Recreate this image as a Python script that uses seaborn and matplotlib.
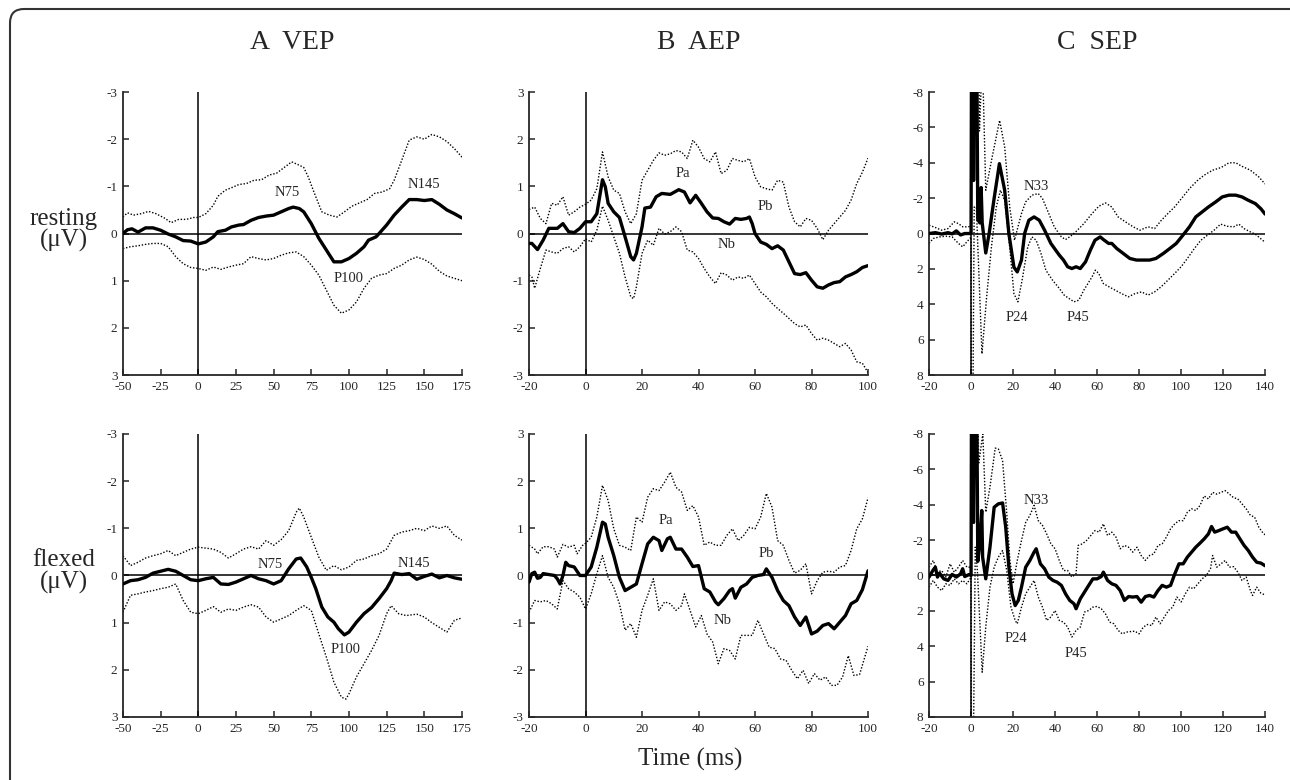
import matplotlib
matplotlib.use('Agg')
import matplotlib.pyplot as plt
from matplotlib.patches import FancyBboxPatch
from matplotlib.transforms import IdentityTransform
import seaborn as sns

# ---- VEP, resting (ms / uV) ----
vep_rest_mean_t = [-50, -47, -44, -40, -35, -30, -25, -20, -15, -10, -5, 0, 5, 10, 13, 18, 22, 27, 30, 35,
                   40, 45, 50, 55, 60, 63, 67, 70, 75, 80, 85, 90, 95, 100, 105, 110, 113, 118, 120, 125,
                   130, 135, 140, 145, 150, 155, 160, 165, 170, 175]
vep_rest_mean = [0, -0.08, -0.1, -0.03, -0.12, -0.12, -0.07, 0.01, 0.07, 0.15, 0.16, 0.22, 0.18, 0.07, -0.04, -0.07, -0.14, -0.18, -0.19, -0.28,
                 -0.34, -0.37, -0.39, -0.46, -0.53, -0.56, -0.53, -0.46, -0.21, 0.1, 0.35, 0.6, 0.6, 0.53, 0.42, 0.28, 0.14, 0.07, 0, -0.18,
                 -0.39, -0.56, -0.72, -0.72, -0.7, -0.72, -0.62, -0.5, -0.42, -0.33]
vep_rest_up_t = [-50, -47, -43, -38, -33, -28, -22, -18, -13, -8, -3, 0, 5, 10, 13, 18, 22, 27, 32, 37,
                 42, 47, 52, 57, 62, 67, 70, 73, 77, 82, 87, 92, 97, 102, 107, 112, 117, 122, 127, 130,
                 135, 140, 145, 150, 155, 160, 165, 170, 175]
vep_rest_up = [-0.35, -0.44, -0.39, -0.42, -0.47, -0.42, -0.32, -0.23, -0.3, -0.3, -0.34, -0.34, -0.42, -0.6, -0.79, -0.92, -0.97, -1.04, -1.06, -1.13,
               -1.14, -1.24, -1.28, -1.4, -1.52, -1.45, -1.4, -1.2, -0.86, -0.46, -0.39, -0.35, -0.46, -0.58, -0.65, -0.72, -0.85, -0.88, -0.95, -1.13,
               -1.55, -1.98, -2.05, -2.0, -2.1, -2.05, -1.95, -1.8, -1.62]
vep_rest_lo_t = list(range(-50, 176, 5))
vep_rest_lo = [0.32, 0.28, 0.26, 0.23, 0.21, 0.21, 0.28, 0.49, 0.64, 0.72, 0.74, 0.78, 0.71, 0.76, 0.71, 0.67, 0.64, 0.49, 0.53, 0.56,
               0.53, 0.46, 0.41, 0.39, 0.49, 0.67, 0.88, 1.2, 1.52, 1.69, 1.62, 1.45, 1.16, 0.95, 0.88, 0.85, 0.74, 0.67, 0.56, 0.5,
               0.55, 0.65, 0.8, 0.9, 0.95, 1.0]

# ---- VEP, flexed ----
vep_flex_mean_t = [-50, -45, -40, -35, -30, -25, -20, -15, -10, -5, 0, 5, 10, 15, 20, 25, 30, 35, 40, 45,
                   50, 55, 60, 65, 68, 72, 75, 78, 82, 86, 90, 93, 97, 100, 105, 110, 115, 120, 125, 128,
                   130, 135, 140, 145, 150, 155, 160, 165, 170, 175]
vep_flex_mean = [0.18, 0.11, 0.09, 0.04, -0.05, -0.09, -0.13, -0.09, 0, 0.09, 0.11, 0.07, 0.04, 0.18, 0.19, 0.14, 0.07, 0, 0.07, 0.11,
                 0.18, 0.11, -0.14, -0.35, -0.37, -0.18, 0.04, 0.28, 0.67, 0.88, 0.99, 1.13, 1.26, 1.2, 0.99, 0.81, 0.68, 0.49, 0.28, 0.11,
                 -0.05, -0.02, -0.04, 0.08, 0.02, -0.03, 0.05, 0.0, 0.05, 0.08]
vep_flex_up_t = [-50, -45, -40, -35, -30, -25, -20, -15, -10, -5, 0, 5, 10, 15, 20, 25, 30, 35, 40, 45,
                 50, 55, 60, 65, 67, 70, 75, 80, 85, 90, 95, 100, 105, 110, 115, 120, 125, 130, 135, 140,
                 145, 150, 155, 160, 165, 170, 175]
vep_flex_up = [-0.42, -0.21, -0.28, -0.37, -0.42, -0.46, -0.53, -0.42, -0.49, -0.56, -0.6, -0.58, -0.56, -0.49, -0.37, -0.46, -0.56, -0.61, -0.56, -0.74,
               -0.64, -0.76, -0.95, -1.34, -1.43, -1.24, -0.81, -0.39, -0.11, -0.21, -0.12, -0.18, -0.32, -0.35, -0.42, -0.46, -0.56, -0.85, -0.92, -0.95,
               -1.0, -0.95, -1.05, -1.0, -1.05, -0.85, -0.75]
vep_flex_lo_t = [-50, -45, -40, -35, -30, -25, -20, -15, -10, -5, 0, 5, 10, 15, 20, 25, 30, 35, 40, 45,
                 50, 55, 60, 65, 70, 75, 80, 85, 90, 95, 98, 100, 105, 110, 115, 120, 125, 128, 133, 138,
                 145, 150, 155, 160, 165, 170, 175]
vep_flex_lo = [0.78, 0.42, 0.39, 0.35, 0.32, 0.28, 0.25, 0.18, 0.53, 0.78, 0.81, 0.74, 0.66, 0.78, 0.71, 0.74, 0.67, 0.62, 0.67, 0.88,
               0.99, 0.92, 0.85, 0.74, 0.64, 0.74, 1.24, 1.73, 2.26, 2.58, 2.62, 2.51, 2.15, 1.87, 1.59, 1.27, 0.81, 0.64, 0.81, 0.85,
               0.82, 0.88, 1.0, 1.1, 1.2, 0.95, 0.9]

# ---- AEP, resting ----
aep_rest_mean_t = [-20, -19, -17, -15, -13, -11, -10, -8, -6, -4, -2, 0, 2, 4, 5, 6, 7, 8, 10, 12,
                   14, 16, 17, 18, 20, 21, 23, 25, 27, 30, 33, 35, 37, 39, 41, 43, 45, 47, 49, 51,
                   53, 55, 57, 58, 59, 60, 62, 64, 66, 68, 70, 72, 74, 76, 78, 80, 82, 84, 86, 88,
                   90, 92, 94, 96, 98, 100]
aep_rest_mean = [-0.21, -0.21, -0.34, -0.14, 0.11, 0.11, 0.11, 0.21, 0.04, 0.02, 0.11, 0.25, 0.25, 0.42, 0.78, 1.14, 0.99, 0.64, 0.46, 0.34,
                 -0.07, -0.49, -0.56, -0.42, 0.14, 0.54, 0.56, 0.78, 0.85, 0.83, 0.93, 0.88, 0.65, 0.81, 0.64, 0.46, 0.33, 0.32, 0.25, 0.2,
                 0.32, 0.3, 0.32, 0.35, 0.21, 0, -0.18, -0.23, -0.32, -0.26, -0.35, -0.6, -0.85, -0.87, -0.83, -0.99, -1.13, -1.16, -1.09, -1.04,
                 -1.02, -0.92, -0.87, -0.81, -0.72, -0.68]
aep_rest_up_t = list(range(-20, 101, 2))
aep_rest_up = [0.51, 0.56, 0.32, 0.21, 0.64, 0.6, 0.78, 0.39, 0.46, 0.56,
               0.62, 0.71, 0.95, 1.73, 1.2, 0.92, 0.85, 0.46, 0.21, 0.42,
               1.13, 1.34, 1.55, 1.71, 1.66, 1.69, 1.76, 1.73, 1.59, 1.98,
               1.83, 1.59, 1.52, 1.73, 1.27, 1.34, 1.59, 1.55, 1.52, 1.59,
               1.2, 0.99, 0.95, 0.92, 1.13, 1.09, 0.56, 0.25, 0.14, 0.32,
               0.28, 0.11, -0.13, 0.07, 0.21, 0.35, 0.49, 0.71, 1.06, 1.3, 1.6]
aep_rest_lo_t = [-20, -19, -18, -16, -14, -12, -10, -8, -6, -4, -2,
                 0, 2, 4, 6, 8, 10, 12, 14, 16, 17, 18] + list(range(20, 101, 2))
aep_rest_lo = [-0.88, -0.92, -1.16, -0.74, -0.35, -0.39, -0.42, -0.32, -0.28, -0.39, -0.28,
               -0.11, -0.18, 0.07, 0.58, 0.28, -0.07, -0.42, -0.92, -1.34, -1.38, -1.13,
               -0.42, -0.14, -0.25, 0.11, -0.01, 0.04, 0.14, 0.04, -0.35, -0.39,
               -0.53, -0.74, -0.92, -1.06, -0.83, -0.88, -0.99, -0.92, -0.95, -0.88,
               -1.06, -1.24, -1.34, -1.48, -1.59, -1.69, -1.8, -1.91, -1.98, -1.94,
               -2.12, -2.26, -2.22, -2.26, -2.33, -2.4, -2.33, -2.47, -2.72, -2.75, -2.95]

# ---- AEP, flexed ----
aep_flex_mean_t = [-20, -19, -18, -17, -16, -15, -13, -11, -10, -9, -8, -7, -6, -4, -2, 0, 2, 4, 6, 7,
                   8, 10, 12, 14, 16, 18, 20, 22, 24, 26, 27, 29, 30, 32, 34, 36, 38, 40, 42, 44,
                   46, 47, 49, 51, 52, 53, 55, 57, 59, 61, 63, 64, 66, 68, 70, 72, 74, 76, 78, 80,
                   82, 84, 86, 88, 90, 92, 94, 96, 98, 100]
aep_flex_mean = [-0.14, 0.04, 0.07, -0.06, -0.04, 0.04, 0.02, 0, -0.07, -0.18, 0, 0.28, 0.21, 0.18, 0, 0, 0.18, 0.6, 1.13, 1.09,
                 0.81, 0.42, -0.04, -0.32, -0.25, -0.18, 0.25, 0.67, 0.81, 0.74, 0.53, 0.78, 0.81, 0.56, 0.56, 0.39, 0.19, 0.21, -0.28, -0.35,
                 -0.56, -0.62, -0.49, -0.32, -0.28, -0.48, -0.25, -0.18, -0.04, 0, 0.02, 0.14, -0.04, -0.32, -0.53, -0.64, -0.88, -1.06, -0.88, -1.24,
                 -1.18, -1.06, -1.02, -1.13, -0.99, -0.85, -0.6, -0.53, -0.3, 0.1]
aep_flex_up_t = [-20, -18, -17, -15, -13, -11, -10, -8, -6, -4, -3, -1] + list(range(0, 101, 2))
aep_flex_up = [0.64, 0.56, 0.46, 0.61, 0.61, 0.56, 0.39, 0.66, 0.6, 0.64, 0.46, 0.64,
               0.68, 0.81, 1.24, 1.91, 1.59, 0.99, 0.64, 0.6, 0.53, 1.24,
               1.13, 1.66, 1.84, 1.8, 1.98, 2.19, 1.87, 1.77, 1.38, 1.48,
               1.24, 0.64, 0.71, 0.64, 0.64, 0.85, 0.99, 0.74, 0.85, 1.02,
               0.99, 1.24, 1.74, 1.45, 0.74, 0.64, 0.32, 0.05, 0.11, 0.25,
               -0.39, -0.11, 0.07, 0.09, 0.07, 0.18, 0.21, 0.53, 0.99, 1.2, 1.65]
aep_flex_lo_t = list(range(-20, 35, 2)) + list(range(35, 96, 2)) + [97, 100]
aep_flex_lo = [-0.78, -0.53, -0.56, -0.53, -0.6, -0.71, -0.11, -0.28, -0.35, -0.46, -0.71,
               -0.39, 0.04, 0.42, -0.04, -0.25, -0.6, -1.16, -1.02, -1.31, -0.74, -0.42, -0.07, -0.74, -0.56, -0.6, -0.74, -0.64,
               -0.39, -0.74, -1.09, -0.85, -1.24, -1.41, -1.87, -1.55, -1.59, -1.77, -1.27, -1.27, -1.27, -0.95, -1.24, -1.52,
               -1.55, -1.77, -1.8, -2.01, -2.19, -2.01, -2.29, -2.08, -2.22, -2.15, -2.33, -2.33, -2.15, -1.7, -2.12,
               -2.1, -1.5]

# ---- SEP, resting ----
sep_rest_mean_t = [-20, -17, -14, -11, -9, -7, -5, -3, -1, 0, 0.4, 1.2, 2.2, 3.2, 4.2, 4.8, 5.3, 7, 8.6, 11,
                   13.5, 16, 18, 20.4, 22, 24, 25.5, 27.5, 30, 32.5, 35, 38, 40.3, 42, 44, 46, 48, 50, 52, 54.5,
                   56.8, 59, 61.5, 63, 65.5, 67, 69.4, 72.5, 75.6, 78.8, 82, 85, 88, 91.5, 94.6, 97.7, 100.9, 104, 107, 110,
                   113, 116.5, 119.6, 122.8, 126, 129, 132, 135.4, 138, 140]
sep_rest_mean = [0, -0.05, 0.03, -0.05, 0.02, -0.15, 0.08, 0, 0, 0, -20, -3, -20, -0.8, -0.6, -2.6, -0.6, 1.1, 0, -2.0,
                 -3.95, -2.45, 0, 1.9, 2.17, 1.5, 0, -0.75, -0.94, -0.75, -0.19, 0.56, 0.94, 1.22, 1.5, 1.88, 1.98, 1.88, 1.98, 1.6,
                 0.94, 0.38, 0.19, 0.34, 0.56, 0.56, 0.85, 1.13, 1.41, 1.5, 1.5, 1.5, 1.41, 1.13, 0.85, 0.56, 0.09, -0.38, -0.94, -1.22,
                 -1.5, -1.79, -2.07, -2.17, -2.17, -2.07, -1.88, -1.69, -1.4, -1.1]
sep_rest_up_t = [-20, -17, -14, -11, -8, -6, -4, -2, 0, 0.5, 1.5, 2.5, 3, 4, 5, 5.7, 7, 10, 13.6,
                 16, 18.4, 20.7, 21.5, 24, 26, 29, 32, 34, 37, 39.6, 43, 45, 47.4, 49.8, 53.7, 57.6, 60.8, 64, 67,
                 70, 73.5, 77.2, 80.4, 84.3, 87.4, 90.6, 93.7, 96.9, 100.8, 104, 107.8, 111, 115, 119, 122.8, 126, 129, 133, 137, 140]
sep_rest_up = [-0.47, -0.34, -0.19, -0.28, -0.66, -0.56, -0.38, -0.38, -0.4, -20, -6, -20, -20, -5.8, -9, -8.5, -2.45, -4.3, -6.4,
               -4.9, -1.5, 0.38, 0, -1.13, -1.79, -2.17, -2.26, -1.98, -1.13, -0.38, 0.19, 0.34, 0.15, -0.09, -0.56, -1.13, -1.54, -1.73, -1.5,
               -0.94, -0.66, -0.38, -0.19, -0.38, -0.28, -0.75, -1.13, -1.5, -2.07, -2.54, -3.0, -3.3, -3.58, -3.73, -4.0, -4.0, -3.8, -3.58, -3.2, -2.8]
sep_rest_lo_t = [-20, -18, -15, -12, -9, -6, -4, -2, 0, 0.3, 1.5, 2.5, 5.2, 7.4, 9.7, 12, 14, 16, 18.4,
                 20.4, 22.3, 24.3, 27, 29, 31, 33.3, 35.6, 38.8, 42, 44.3, 46.6, 49, 51.3, 53.7, 57.6, 59.2, 60.8, 63, 65.5,
                 68.6, 71.7, 74.9, 78, 81.2, 84.3, 87.4, 90.6, 93.7, 96.9, 100, 103, 106.3, 109.4, 112.6, 115.7, 118.8, 122, 125, 127.5,
                 130, 133, 135.4, 140]
sep_rest_lo = [0.56, 0.28, 0.19, 0.15, 0.19, 0.56, 0.75, 0.47, 0.2, 20, -1.5, -1.5, 6.8, 3.6, 0.75, -1.5, -2.45, -1.88, 0.75,
               3.4, 3.86, 2.64, 0.75, 0.19, 0.38, 1.13, 2.07, 2.64, 3.1, 3.48, 3.67, 3.86, 3.77, 3.2, 2.45, 2.07, 2.26, 2.83, 3.0,
               3.2, 3.4, 3.58, 3.4, 3.3, 3.48, 3.3, 3.0, 2.64, 2.26, 1.88, 1.41, 0.85, 0.38, 0.09, -0.19, -0.53, -0.41, -0.38, -0.53,
               -0.28, -0.09, 0.04, 0.5]

# ---- SEP, flexed ----
sep_flex_mean_t = [-20, -18, -17, -16, -15, -13, -11, -9, -7, -5, -4, -3, -1, 0,
                   0.4, 1.2, 2.2, 3.2, 4, 5.1, 5.5, 7, 9, 11,
                   13, 15, 16.5, 18, 19.5, 21, 22.5, 24, 26, 28,
                   30, 31, 33, 35, 37, 39, 41, 43, 45, 47,
                   49, 50, 52, 54, 56, 58, 60, 62, 63, 65,
                   67, 69, 71, 73, 75, 77, 79, 81, 83, 85,
                   87, 89, 91, 93, 95, 97, 99, 101, 103, 105,
                   107, 109, 111, 113, 114.5, 116, 118, 120, 122, 124,
                   126, 128, 130, 132, 134, 136, 138, 140]
sep_flex_mean = [0.09, -0.32, -0.47, 0.09, -0.13, 0.19, 0.28, -0.06, 0.09, -0.09, -0.38, 0.06, -0.05, 0,
                 -20, -3, -20, -0.8, -1.6, -3.67, -1.04, 0.19, -1.6, -3.86,
                 -4.05, -4.1, -2.73, -0.47, 1.04, 1.7, 1.41, 0.66, -0.47, -0.85,
                 -1.32, -1.51, -0.66, -0.38, 0.09, 0.28, 0.38, 0.56, 1.04, 1.41,
                 1.6, 1.88, 1.32, 0.94, 0.56, 0.19, 0.19, 0.06, -0.19, 0.28,
                 0.47, 0.56, 0.85, 1.41, 1.19, 1.22, 1.19, 1.51, 1.19, 1.13,
                 1.22, 0.85, 0.56, 0.66, 0.56, -0.09, -0.66, -0.66, -1.04, -1.32,
                 -1.6, -1.83, -2.07, -2.35, -2.77, -2.45, -2.54, -2.64, -2.73, -2.45,
                 -2.45, -2.07, -1.7, -1.41, -1.04, -0.75, -0.7, -0.55]
sep_flex_up_t = [-20, -18, -16, -14, -12, -10, -8, -6, -4, -2, 0,
                 0.5, 1.5, 2.5, 3.6, 5.6, 7, 9, 11.5, 13, 15,
                 17, 18.5, 20, 22, 24, 26, 28, 30, 32, 34,
                 36, 38, 40, 42, 44, 46, 48, 50, 51, 53] + list(range(55, 140, 2)) + [140]
sep_flex_up = [-0.47, -0.85, -0.19, -0.28, 0.09, -0.66, -0.19, -0.47, -0.85, -0.47, -0.47,
               -20, -6, -20, -6.3, -8, -3.58, -5, -7.2, -7.15, -6.5,
               -3.5, -0.85, 0.47, -0.85, -1.98, -3.0, -3.4, -3.96, -3.1, -2.83,
               -2.35, -1.79, -1.51, -0.85, -0.28, -0.28, 0.09, -0.1, -1.7, -1.79,
               -1.98, -2.26, -2.54, -2.45, -2.92, -2.26, -2.45, -2.17, -1.51, -1.7,
               -1.6, -1.32, -1.6, -1.13, -0.85, -1.13, -1.22, -1.7, -1.79, -2.17,
               -2.64, -2.92, -3.1, -3.1, -3.58, -3.77, -3.67, -3.96, -4.5, -4.33,
               -4.7, -4.6, -4.7, -4.8, -4.6, -4.4, -4.33, -4.05, -3.77, -3.4,
               -3.3, -2.73, -2.4, -2.3]
sep_flex_lo_t = [-20, -18, -16, -14, -12, -10, -8, -6, -4, -2, 0,
                 0.3, 2, 3, 5.3, 7, 9, 11, 13, 15, 17,
                 19, 21, 22] + list(range(24, 115, 2)) + [115, 117, 119, 121, 123, 125, 127, 129, 131, 133, 134, 136, 138, 140]
sep_flex_lo = [0.66, 0.28, 0.66, 0.85, 0.47, 0.56, 0.19, 0.47, 0.28, 0.47, 0.1,
               20, -1.6, -0.3, 5.47, 2.9, 0.66, -0.47, -1.04, -1.41, -0.28,
               1.79, 2.54, 2.73, 1.79, 1.04, 0.66, 0.28, 1.22, 1.79, 2.54,
               2.35, 1.98, 2.54, 2.64, 2.92, 3.48, 3.1, 2.92, 2.07, 1.98,
               1.79, 1.75, 1.88, 2.17, 2.64, 2.73, 3.1, 3.3, 3.2, 3.17,
               3.15, 3.3, 2.92, 2.77, 2.83, 2.35, 2.73, 2.35, 1.98, 1.79,
               1.22, 1.5, 1.04, 0.66, 0.75, 0.47, 0.19, 0, -0.38, -1.13,
               -0.47, -0.66, -0.85, -0.47, -0.5, -0.19, 0.28, 0.09, 0.85, 1.13,
               0.66, 1.0, 1.1]

col_titles = ['A  VEP', 'B  AEP', 'C  SEP']
row_labels = ['resting\n(\u03bcV)', 'flexed\n(\u03bcV)']

sns.set_style('ticks')
plt.rcParams['font.family'] = ['Liberation Serif', 'DejaVu Serif']
plt.rcParams['axes.unicode_minus'] = False

fig = plt.figure(figsize=(12.9, 7.8), dpi=100)

# panel geometry (figure fractions)
lefts = [0.0953, 0.4101, 0.7202]
widths = [0.2628, 0.2628, 0.2605]
bottoms = [0.5192, 0.0808]
height = 0.3628

axis_cfg = [
    dict(xlim=(-50, 175), xticks=range(-50, 176, 25), ylim=(3, -3), yticks=range(-3, 4)),
    dict(xlim=(-20, 100), xticks=range(-20, 101, 20), ylim=(-3, 3), yticks=range(-3, 4)),
    dict(xlim=(-20, 140), xticks=range(-20, 141, 20), ylim=(8, -8), yticks=range(-8, 9, 2)),
]

panels = [
    [(vep_rest_mean_t, vep_rest_mean, vep_rest_up_t, vep_rest_up, vep_rest_lo_t, vep_rest_lo,
      [('N75', 59, -0.88), ('P100', 100, 0.95), ('N145', 150, -1.05)]),
     (aep_rest_mean_t, aep_rest_mean, aep_rest_up_t, aep_rest_up, aep_rest_lo_t, aep_rest_lo,
      [('Pa', 34.4, 1.27), ('Pb', 63.5, 0.58), ('Nb', 50, -0.23)]),
     (sep_rest_mean_t, sep_rest_mean, sep_rest_up_t, sep_rest_up, sep_rest_lo_t, sep_rest_lo,
      [('N33', 31, -2.67), ('P24', 21.6, 4.75), ('P45', 51, 4.75)])],
    [(vep_flex_mean_t, vep_flex_mean, vep_flex_up_t, vep_flex_up, vep_flex_lo_t, vep_flex_lo,
      [('N75', 48, -0.23), ('P100', 98, 1.57), ('N145', 143, -0.25)]),
     (aep_flex_mean_t, aep_flex_mean, aep_flex_up_t, aep_flex_up, aep_flex_lo_t, aep_flex_lo,
      [('Pa', 28.3, 1.16), ('Pb', 64, 0.46), ('Nb', 48.5, -0.95)]),
     (sep_flex_mean_t, sep_flex_mean, sep_flex_up_t, sep_flex_up, sep_flex_lo_t, sep_flex_lo,
      [('N33', 31, -4.24), ('P24', 21.5, 3.58), ('P45', 50, 4.43)])],
]

dotted = (0, (1, 1.3))

for r in range(2):
    for c in range(3):
        ax = fig.add_axes([lefts[c], bottoms[r], widths[c], height])
        cfg = axis_cfg[c]
        mt, mv, ut, uv, lt, lv, labels = panels[r][c]

        ax.axhline(0, color='black', lw=1.1, zorder=1)
        ax.axvline(0, color='black', lw=1.1, zorder=1)
        sns.lineplot(x=ut, y=uv, ax=ax, color='black', lw=1.0, linestyle=dotted,
                     estimator=None, sort=False, zorder=2)
        sns.lineplot(x=lt, y=lv, ax=ax, color='black', lw=1.0, linestyle=dotted,
                     estimator=None, sort=False, zorder=2)
        sns.lineplot(x=mt, y=mv, ax=ax, color='black', lw=2.4,
                     estimator=None, sort=False, zorder=3)

        for txt, tx, ty in labels:
            ax.text(tx, ty, txt, ha='center', va='center', fontsize=10.5)

        ax.set_xlim(*cfg['xlim'])
        ax.set_ylim(*cfg['ylim'])
        ax.set_xticks(list(cfg['xticks']))
        ax.set_yticks(list(cfg['yticks']))
        ax.set_xlabel('')
        ax.set_ylabel('')
        ax.spines[['top', 'right']].set_visible(False)
        for s in ['left', 'bottom']:
            ax.spines[s].set_linewidth(1.3)
        ax.tick_params(direction='in', length=4, width=1.1, labelsize=9.5, pad=4)
        ax.patch.set_alpha(0)

for c in range(3):
    fig.text(lefts[c] + widths[c] / 2, 0.946, col_titles[c], ha='center', va='center', fontsize=20)

for r, lab in enumerate(row_labels):
    fig.text(0.0496, bottoms[r] + height / 2 + 0.005, lab, ha='center', va='center',
             fontsize=18, linespacing=0.95)

fig.text(0.535, 0.026, 'Time (ms)', ha='center', va='center', fontsize=18)

# rounded frame: only its left and top edges fall inside the picture
frame = FancyBboxPatch((10, -40), 1330, 811, boxstyle='round,pad=0,rounding_size=14',
                       transform=IdentityTransform(), fill=False, ec='#333333', lw=1.5)
fig.patches.append(frame)

fig.savefig('out.png', dpi=100)
